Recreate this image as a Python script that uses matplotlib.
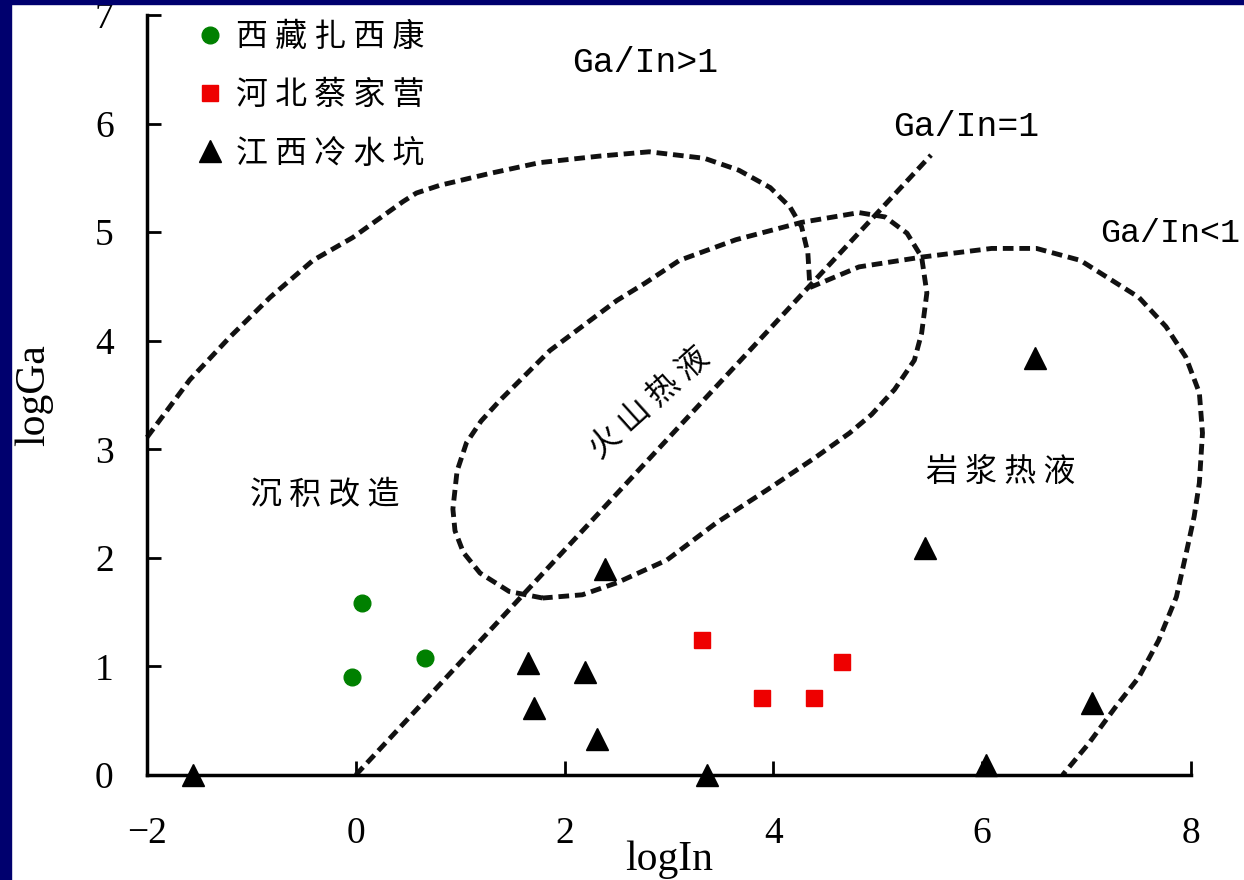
import numpy as np
import matplotlib
matplotlib.use('Agg')
import matplotlib.pyplot as plt
from matplotlib.patches import Rectangle

# sample points (logIn, logGa)
tibet_x = [0.06, -0.04, 0.66]
tibet_y = [1.58, 0.90, 1.08]
hebei_x = [3.32, 3.89, 4.39, 4.66]
hebei_y = [1.24, 0.71, 0.71, 1.04]
jiangxi_x = [-1.56, 1.65, 1.71, 2.20, 2.31, 2.39, 3.36, 5.45, 6.04, 6.51, 7.05]
jiangxi_y = [0.00, 1.03, 0.62, 0.95, 0.33, 1.90, 0.00, 2.09, 0.09, 3.84, 0.66]

legend_labels = ['西 藏 扎 西 康', '河 北 蔡 家 营', '江 西 冷 水 坑']

# field boundaries
sed_x = [-2.00, -1.59, -1.21, -0.82, -0.41, -0.03, 0.45, 0.58, 0.80, 1.28, 1.76,
         2.33, 2.81, 3.34, 3.67, 3.97, 4.16, 4.27, 4.33, 4.35]
sed_y = [3.11, 3.64, 4.03, 4.40, 4.74, 4.95, 5.28, 5.36, 5.43, 5.54, 5.64,
         5.70, 5.74, 5.68, 5.57, 5.41, 5.23, 5.05, 4.81, 4.49]

mag_x = [4.35, 4.82, 5.42, 6.09, 6.52, 6.94, 7.50, 7.76, 7.95, 8.08, 8.11, 8.08,
         8.03, 7.96, 7.86, 7.69, 7.50, 7.28, 7.02, 6.77]
mag_y = [4.49, 4.68, 4.77, 4.85, 4.85, 4.74, 4.40, 4.13, 3.85, 3.52, 3.15, 2.69,
         2.38, 2.07, 1.64, 1.24, 0.90, 0.63, 0.29, 0.00]

vol_x = [1.79, 1.47, 1.19, 1.03, 0.95, 0.93, 0.97, 1.06, 1.20, 1.38, 1.86, 2.50,
         2.77, 3.10, 3.64, 4.27, 4.82, 5.07, 5.28, 5.42, 5.47, 5.42, 5.35, 5.16,
         4.94, 4.73, 4.41, 3.93, 3.45, 2.98, 2.50, 2.17, 1.79]
vol_y = [1.63, 1.69, 1.86, 2.05, 2.25, 2.45, 2.80, 3.06, 3.26, 3.45, 3.91, 4.37,
         4.53, 4.74, 4.93, 5.09, 5.18, 5.14, 4.99, 4.77, 4.44, 4.07, 3.82, 3.55,
         3.32, 3.15, 2.93, 2.62, 2.32, 1.98, 1.77, 1.66, 1.63]

ratio_x = [0.0, 5.51]
ratio_y = [0.0, 5.71]

cjk = ['Noto Sans CJK SC', 'DejaVu Sans']
serif = 'Liberation Serif'
mono = 'Liberation Mono'

fig = plt.figure(figsize=(12.44, 8.8), dpi=100)
fig.patches.append(Rectangle((0, 0), 11 / 1244, 1, transform=fig.transFigure,
                             color='#00006e', zorder=0))
fig.patches.append(Rectangle((0, 1 - 4 / 880), 1, 4 / 880, transform=fig.transFigure,
                             color='#00006e', zorder=0))
ax = fig.add_axes([147 / 1244, 105 / 880, 1044 / 1244, 760 / 880])

dash = dict(color='#111111', lw=3.5, dashes=(2.2, 1.2), clip_on=False, zorder=2)
ax.plot(sed_x, sed_y, **dash)
ax.plot(mag_x, mag_y, **dash)
ax.plot(vol_x, vol_y, **dash)
ax.plot(ratio_x, ratio_y, **dash)

ax.plot(tibet_x, tibet_y, 'o', color='#008000', ms=12, ls='none', clip_on=False,
        zorder=4, label=legend_labels[0])
ax.plot(hebei_x, hebei_y, 's', color='#ee0000', ms=11, ls='none', clip_on=False,
        zorder=4, label=legend_labels[1])
ax.plot(jiangxi_x, jiangxi_y, '^', color='black', ms=15.5, ls='none', clip_on=False,
        zorder=4, label=legend_labels[2])

ax.set_xlim(-2, 8)
ax.set_ylim(0, 7)
ax.set_xticks([-2, 0, 2, 4, 6, 8])
ax.set_yticks(range(8))
for s in ['top', 'right']:
    ax.spines[s].set_visible(False)
for s in ['left', 'bottom']:
    ax.spines[s].set_linewidth(2.5)
ax.tick_params(direction='in', length=10, width=2)
ax.tick_params(axis='x', pad=30)
ax.tick_params(axis='y', pad=24)
for lab in ax.get_xticklabels() + ax.get_yticklabels():
    lab.set_fontfamily(serif)
    lab.set_fontsize(27)

ax.set_xlabel('logIn', fontfamily=serif, fontsize=30, labelpad=-8)
ax.set_ylabel('logGa', fontfamily=serif, fontsize=30, labelpad=30)

ax.text(2.77, 6.56, 'Ga/In>1', fontfamily=mono, fontsize=25, ha='center', va='center')
ax.text(5.85, 5.97, 'Ga/In=1', fontfamily=mono, fontsize=25, ha='center', va='center')
ax.text(7.13, 4.99, 'Ga/In<1', fontfamily=mono, fontsize=24, ha='left', va='center',
        clip_on=False)

ax.text(-0.30, 2.58, '沉 积 改 造', family=cjk, fontsize=23, ha='center', va='center',
        fontweight='light')
ax.text(6.18, 2.79, '岩 浆 热 液', family=cjk, fontsize=23, ha='center', va='center',
        fontweight='light')
ax.text(2.81, 3.43, '火 山 热 液', family=cjk, fontsize=23, ha='center', va='center',
        rotation=42, rotation_mode='anchor', fontweight='light')

leg = ax.legend(loc='upper left', bbox_to_anchor=(0.045, 0.992), frameon=False,
                borderaxespad=0, borderpad=0, handlelength=1.0, handletextpad=0.3,
                labelspacing=0.82, prop={'family': cjk, 'size': 23, 'weight': 'light'})

fig.savefig('out.png', dpi=100)
